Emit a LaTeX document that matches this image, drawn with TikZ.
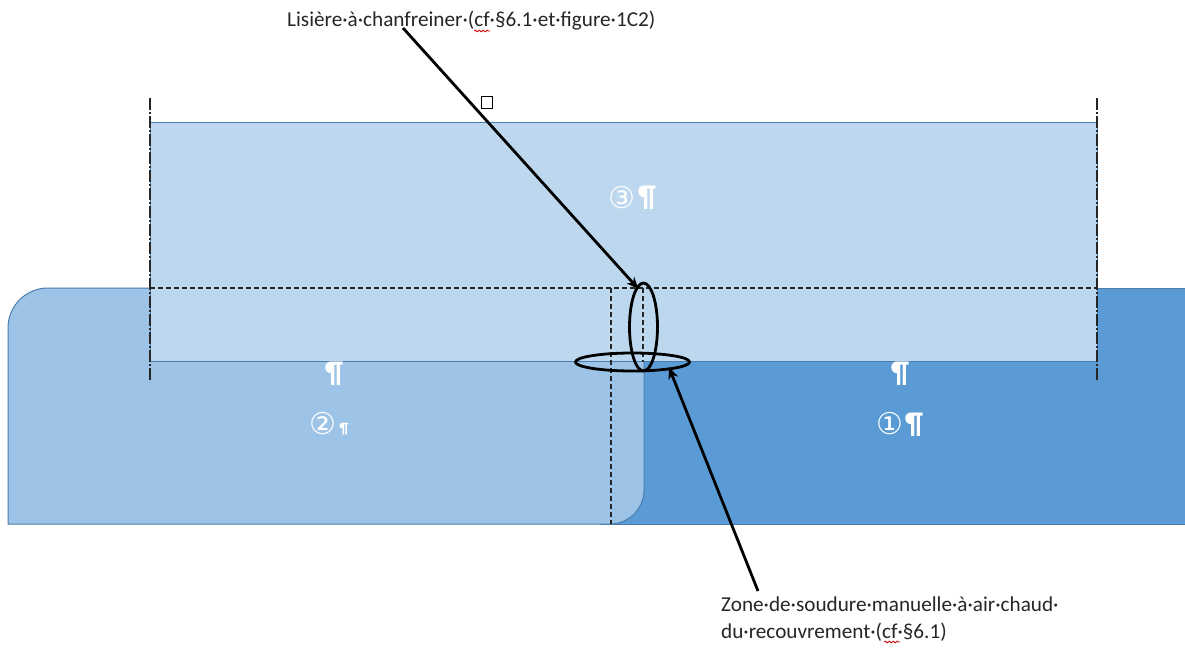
\documentclass[tikz,border=0pt]{standalone}
\usepackage{fontspec}
\setmainfont{Carlito}
\newfontfamily\symbfont{DejaVu Sans}
\usepackage{xcolor}
\usepackage{tikz}
\usetikzlibrary{positioning, shapes, shapes.geometric, arrows, calc, arrows.meta, decorations.pathmorphing}

\definecolor{pieceone}{HTML}{5B9BD5}
\definecolor{piecetwo}{HTML}{9DC3E6}
\definecolor{piecethree}{HTML}{BDD7EE}
\definecolor{pieceedge}{HTML}{4A7EAE}

\tikzset{
  piece/.style={draw=pieceedge, line width=1pt},
  hidden/.style={draw=black!85, line width=1.2pt, dash pattern=on 5pt off 3pt},
  limit/.style={draw=black!85, line width=1.2pt, dash pattern=on 12pt off 2pt on 2pt off 2pt},
  callout/.style={draw=black, line width=2.8pt, shorten >=-3pt},
  loupe/.style={draw=black, line width=2.8pt, ellipse, inner sep=0pt},
  legend/.style={inner sep=0pt, font=\fontsize{21.2}{27.5}\selectfont, text=black!85, align=left},
  whitemark/.style={inner sep=0pt, text=white, font=\fontsize{30}{30}\selectfont\bfseries},
  squiggle/.style={draw=red!80!black, line width=0.8pt, decorate, decoration={snake, amplitude=0.9pt, segment length=4pt}}
}

\begin{document}
\begin{tikzpicture}[x=1pt, y=-1pt]
  \useasboundingbox (0, 0) rectangle (1185, 653);

  \fill[pieceone] (600, 288) rectangle (1185, 524);
  \draw[piece] (1185, 288) -- (1097, 288);
  \draw[piece] (600, 524) -- (1185, 524);

  \filldraw[piece, fill=piecetwo] (644, 288) -- (48, 288) arc[start angle=270, end angle=180, radius=40] -- (8, 524) -- (610, 524) arc[start angle=90, end angle=0, radius=34] -- cycle;

  \filldraw[piece, fill=piecethree] (150, 122) rectangle (1097, 361);

  \draw[hidden] (150, 288) -- (1097, 288);
  \draw[hidden] (611, 288) -- (611, 524);
  \draw[hidden] (643, 288) -- (643, 362);

  \draw[limit] (150, 98) -- (150, 382);
  \draw[limit] (1097, 98) -- (1097, 382);

  \node[draw=black, line width=1.2pt, minimum size=11.5pt, inner sep=0pt, fill=white] (handle) at (487, 102.5) {};

  \node[loupe, minimum width=28pt, minimum height=88pt] (loupev) at (643.5, 327) {};
  \node[loupe, minimum width=114pt, minimum height=18pt] (loupeh) at (632.5, 362) {};

  \node[legend, anchor=west] (lisiere) at (287, 21) {Lisière·à·chanfreiner·(cf·§6.1·et·figure·1C2)};
  \node[legend, anchor=west] (zone) at (721, 619) {Zone·de·soudure·manuelle·à·air·chaud·\\du·recouvrement·(cf·§6.1)};

  \draw[squiggle] (474, 31) -- (490, 31);
  \draw[squiggle] (884, 642) -- (900, 642);

  \coordinate (lisierefoot) at (403, 28);
  \coordinate (zonefoot) at (758, 591);

  \draw[callout, -{Stealth[length=12pt, width=10pt]}] (lisierefoot) -- (loupev.100);
  \draw[callout, -{Stealth[length=12pt, width=10pt]}] (zonefoot) -- (loupeh.-12);

  \node[whitemark] (three) at (622, 198) {\symbfont\mdseries ③};
  \node[whitemark] (threepil) at (647, 198) {¶};
  \node[whitemark] (two) at (323, 424) {\symbfont\mdseries ②};
  \node[whitemark, font=\fontsize{15}{15}\selectfont\bfseries] (twopil) at (344, 429) {¶};
  \node[whitemark] (one) at (890, 424) {\symbfont\mdseries ①};
  \node[whitemark] (onepil) at (914, 425) {¶};
  \node[whitemark] (leftpil) at (334, 374) {¶};
  \node[whitemark] (rightpil) at (900, 374) {¶};
\end{tikzpicture}
\end{document}
